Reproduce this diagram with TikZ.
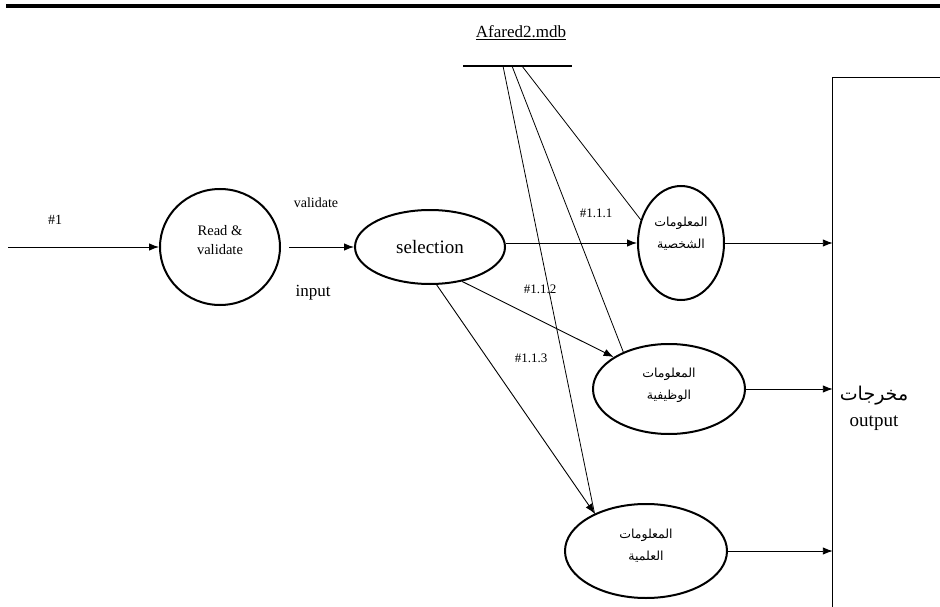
\documentclass[tikz,border=0pt]{standalone}
\usepackage{fontspec}
\setmainfont{Liberation Serif}
\newfontfamily\arabicfont[Script=Arabic]{DejaVu Sans}
\TeXXeTstate=1
\usetikzlibrary{shapes.geometric,arrows.meta}
\begin{document}
\begin{tikzpicture}[x=1pt,y=-1pt,
  proc/.style={ellipse, draw, line width=2pt, inner sep=0pt, align=center},
  flow/.style={line width=0.9pt, -{Latex[length=10pt,width=7.5pt]}},
  plainline/.style={line width=0.8pt},
  lbl/.style={font=\fontsize{14}{16}\selectfont},
  small/.style={font=\fontsize{13}{15}\selectfont},
  arab/.style={font=\arabicfont\fontsize{12.5}{22}\selectfont, align=center}
]
\useasboundingbox (0,0) rectangle (940,607);
% top rule
\coordinate (barL) at (6,6);
\coordinate (barR) at (940,6);
\draw[line width=4.5pt] (barL) -- (barR);

% data store
\node[font=\fontsize{17}{19}\selectfont] (dbname) at (521,33) {\underline{Afared2.mdb}};
\coordinate (dsL) at (463,66);
\coordinate (dsR) at (572,66);
\draw[line width=1.3pt] (dsL) -- (dsR);
\coordinate (ds1) at (503,66);
\coordinate (ds2) at (512,66);
\coordinate (ds3) at (522,66);

% processes
\node[proc, minimum width=120pt, minimum height=116pt,
  label={[align=center, font=\fontsize{14.5}{19}\selectfont, yshift=7pt]center:{Read \&\\validate}}] (rv) at (220,247) {};
\node[proc, minimum width=150pt, minimum height=74pt, font=\fontsize{19}{21}\selectfont] (sel) at (430,247) {selection};
\node[proc, minimum width=86pt, minimum height=114pt,
  label={[arab, yshift=9pt]center:{\beginR المعلومات\endR\\\beginR الشخصية\endR}}] (top) at (681,243) {};
\node[proc, minimum width=152pt, minimum height=90pt,
  label={[arab, yshift=4pt]center:{\beginR المعلومات\endR\\\beginR الوظيفية\endR}}] (mid) at (669,389) {};
\node[proc, minimum width=162pt, minimum height=94pt,
  label={[arab, yshift=5pt]center:{\beginR المعلومات\endR\\\beginR العلمية\endR}}] (bot) at (646,551) {};

% output box
\node[minimum width=108pt, minimum height=530pt, inner sep=0pt] (outbox) at (887,343) {};
\draw[line width=1.1pt] (outbox.north east) -- (outbox.north west) -- (outbox.south west);
\node[align=center, font=\fontsize{19}{26}\selectfont] (outtxt) at (874,408) {{\arabicfont\beginR مخرجات\endR}\\output};

% input flow
\coordinate (in0) at (8,247);
\draw[flow] (in0) -- (rv.west);
\node[lbl] (l1) at (55,220) {\#1};

% validate flow
\draw[flow, shorten <=8pt] (rv.east) -- (sel.west);
\node[lbl] (lv) at (316,203) {validate};
\node[font=\fontsize{17}{19}\selectfont] (li) at (313,293) {input};

% selection flows
\draw[flow] (sel.east |- top.west) -- (top.west);
\draw[flow] (sel.-47) -- (mid.150);
\draw[flow] (sel.-80) -- (bot.144);
\node[small] (l111) at (596,213) {\#1.1.1};
\node[small] (l112) at (540,289) {\#1.1.2};
\node[small] (l113) at (531,358) {\#1.1.3};

% data store lines
\draw[plainline] (ds1) -- (bot.144);
\draw[plainline] (ds2) -- (mid.141);
\draw[plainline] (ds3) -- (top.150);

% outputs
\draw[flow] (top.east) -- (top.east -| outbox.west);
\draw[flow] (mid.east) -- (mid.east -| outbox.west);
\draw[flow] (bot.east) -- (bot.east -| outbox.west);
\end{tikzpicture}
\end{document}
